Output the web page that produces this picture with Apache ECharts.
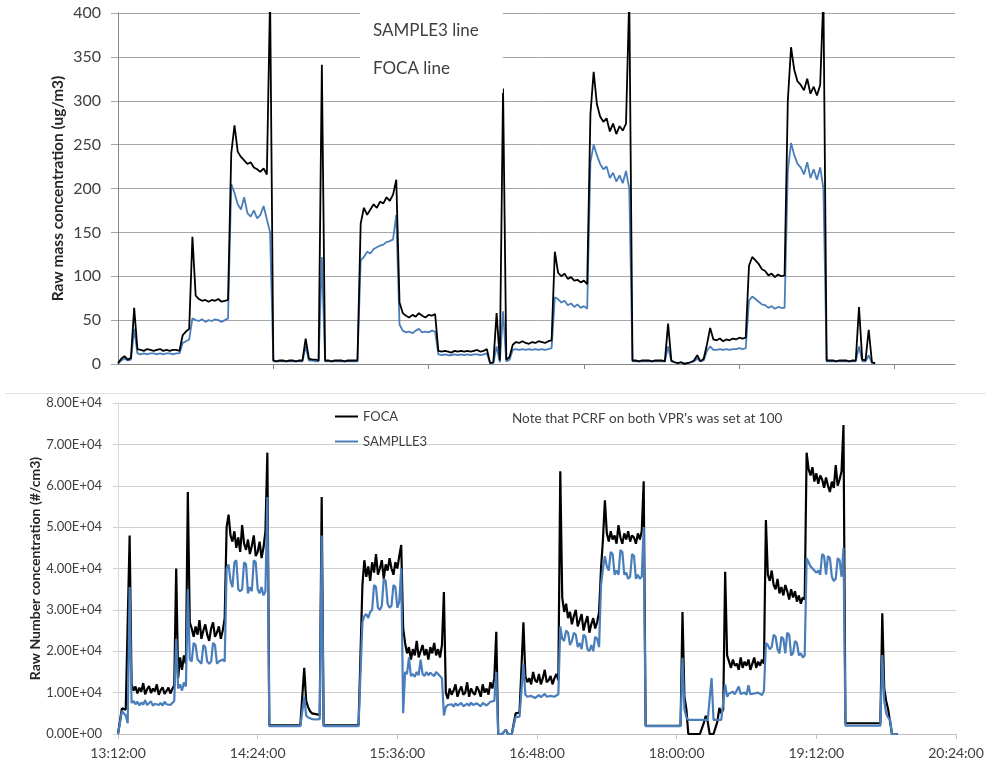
<!DOCTYPE html>
<html><head><meta charset="utf-8">
<script src="https://cdn.jsdelivr.net/npm/echarts@6/dist/echarts.min.js"></script>
<style>html,body{margin:0;padding:0;background:#fff}#c{width:986px;height:764px}</style>
</head><body><div id="c"></div>
<script>
// ---- Top panel: raw mass concentration (ug/m3), one reading every 1.5 min from 13:12 ----
const massStepMin = 1.5;
const massFoca = [1,6,9,5,7, 64, 17,16,15,17,16,15,16,17,15,16,15,16,16,15, 33,37,40, 145, 78,74,72,73,71,73,72,74,71,72,73, 240,272, 242,236,232,228,230,224,222,219,223,216, 420, 4,3,4,4,3,4,4,3,4,4, 29, 6,5,5,4, 341, 4,4,3,4,4,4,3,4,4,4,4, 160,178,170,176,182,178,185,183,190,186,193,210, 70,58,55,53,56,54,58,55,53,56,55,57, 15,14,15,14,13,15,14,15,14,15,14,15,16,14,15,17, 1,2,58,4,314,5,8, 22,25,24,26,24,23,25,24,26,25,24,26,27, 128,104,100,103,97,99,95,96,93,95,91, 285,333,296,282,276,280,265,274,262,271,266,274, 420, 4,4,3,4,4,4,3,4,4,4,3, 46, 4,2,1,2,0,1,2,4,10,3,6, 22,41,28,27,29,26,28,27,29,28,30,29,30, 112,122,118,114,108,106,101,103,99,102,100,101, 300,361,335,322,318,312,325,308,316,306,318, 420, 4,4,4,3,4,4,4,3,4,4,65,5,4,39,2,1];
const massSample3 = [0,4,6,4,5, 40, 12,11,12,11,12,12,11,12,11,12,12,11,12,12, 24,26,28, 52, 50,49,51,48,50,49,51,50,48,50,52, 205,195, 182,176,190,172,168,175,166,170,180,165, 150, 3,3,3,3,3,3,3,3,3,3, 20, 4,4,3,3, 122, 3,3,3,3,3,3,3,3,3,3,3, 118,122,128,126,131,133,135,136,139,140,142,170, 45,38,36,37,35,38,40,36,37,36,38,37, 11,10,11,10,10,11,10,11,10,11,10,11,11,10,11,12, 1,1,20,2,60,3,5, 16,17,16,17,16,17,16,17,16,17,16,17,18, 76,74,70,72,67,69,65,68,64,66,63, 230,250,238,228,222,225,212,218,208,215,206,220, 200, 3,3,3,3,3,3,3,3,3,3,3, 20, 3,2,1,2,1,1,2,3,6,3,4, 15,20,16,16,17,16,17,16,17,17,18,17,18, 72,77,74,71,68,67,64,66,63,65,64,64, 220,252,238,228,224,216,230,212,222,210,224, 200, 3,3,3,3,3,3,3,3,3,3,20,3,3,10,1,0];
const massYTicks = [0,50,100,150,200,250,300,350,400];

// ---- Bottom panel: raw number concentration (#/cm3), one reading per minute from 13:12 ----
const numStepMin = 1;
const numFoca = [0,0,
6200,6000,5900,5600,
48000,
12000,10500,11500,9800,11200,10200,12300,9600,10800,11600,9900,11000,10300,12000,9500,10600,11300,9700,10400,11200,9800,10900,11800,
40000,
13500,18500,15500,19000,17000,
58500,
27000,25500,23500,26000,24000,27500,23000,25000,26500,24000,22500,25500,27000,23500,24500,26000,23000,25000,28000,
50000,53000,48000,46500,49000,45000,47500,44000,50500,46000,44500,47000,43500,45500,48000,43000,44000,46500,42500,45000,49000,
68000,
2100,2100,2100,2100,2100,2100,2100,2100,2100,2100,2100,2100,2100,2100,2100,2100,2100,2100,
16000,
8000,6500,5500,5000,5200,4800,5000,4600,
57300,
2100,2100,2100,2100,2100,2100,2100,2100,2100,2100,2100,2100,2100,2100,2100,2100,2100,2100,2100,2100,
36000,42000,38000,40500,37000,41500,39000,43500,38500,40000,42000,37500,41000,39500,42500,40000,38500,41500,40000,43000,
45700,
25500,22000,19500,21000,18000,20500,19000,22500,18500,20000,21500,19000,20500,18000,21000,19500,22000,19000,20500,18500,21500,
34300,
10000,8500,11000,9500,10500,12000,9000,10500,11500,9500,10000,12500,9000,11000,10000,9500,11500,10500,9000,12000,10000,11000,9500,12500,11000,13500,
24700,
0,0,0,0,1000,0,0,0,0,
5000,5000,5200,5000,
27000,
14000,12500,13500,12000,15000,13000,12500,14500,12000,13500,15500,12500,13000,14000,12000,13500,14500,13000,
63500,
33000,29500,31500,28000,29500,26500,28500,30000,26000,27500,29000,25000,27000,28500,24500,26500,28000,25500,27000,29500,
40000,47000,56500,48500,46500,49000,47000,48000,46000,50500,47500,46000,48500,47000,49000,46500,48000,47500,46000,48500,47000,49000,
61100,
2000,2000,2000,2000,2000,2000,2000,2000,2000,2000,2000,2000,2000,2000,2000,2000,2000,2000,2000,
29500,
9000,6000,0,0,0,0,0,0,0,0,2700,4400,3000,0,0,0,0,3000,6300,5000,6000,
39200,
19000,17500,16000,18000,16500,17000,15500,18500,16000,17500,16500,18000,15500,17000,18500,16000,17500,16500,18000,17000,
51700,
38500,37000,39500,36000,35000,37500,34000,35500,33500,36000,34500,32500,35000,33000,34500,32000,33500,31500,33000,32500,
68000,64000,62500,64500,61000,63000,60500,62500,61500,59500,62000,60000,58500,61000,59500,65000,60000,61500,63500,
74700,
2600,2600,2600,2600,2600,2600,2600,2600,2600,2600,2600,2600,2600,2600,2600,2600,2600,2600,2600,
29200,
11000,8000,6000,3000,0,0,0,0];
const numSample3 = [0,0,
5500,5300,4500,2600,
35500,
7500,8000,7200,7800,6900,7600,7100,8200,7000,7400,7900,6800,7300,7700,7000,7500,6900,7800,7200,7600,7000,7400,8000,
23000,
11000,12000,10500,12500,11500,
35000,
18000,17500,22000,21500,18000,17500,17000,21500,21000,17500,17000,17500,22000,21500,17000,17500,17500,18000,17500,
40000,41000,37000,35500,41500,42000,35000,34500,35000,41500,41000,34000,35500,34500,42000,41500,35000,34000,35500,33500,34500,
57300,
1900,1900,1900,1900,1900,1900,1900,1900,1900,1900,1900,1900,1900,1900,1900,1900,1900,1900,
9000,
4500,4000,3800,3600,3800,3500,3700,3600,
48000,
1900,1900,1900,1900,1900,1900,1900,1900,1900,1900,1900,1900,1900,1900,1900,1900,1900,1900,1900,1900,
27000,28500,29000,28000,29500,30000,36000,35500,30500,30000,31000,37500,37000,31500,30500,31000,36000,35500,30500,32000,
40000,
5000,15000,14500,18500,14000,14500,13800,15000,14200,18000,14500,14000,15000,14200,14800,14500,14000,15000,14500,14300,13500,
4500,
6500,7000,6800,7200,6600,7400,6900,7100,7500,6700,7000,7300,6800,7600,7000,6900,7400,7100,6700,7500,7200,6900,7300,7800,7400,8000,
15000,
0,0,0,0,1000,0,0,0,0,
4100,4000,4200,4100,
17000,
9500,9000,8800,9200,9600,8700,9100,9400,8900,9300,9700,9000,8800,9200,9500,9000,9300,9600,
26000,
23000,22500,25000,24500,21500,22500,24500,24000,21000,22000,20500,24000,23500,20500,20000,21500,20000,23500,23000,21000,
36000,40000,43000,40500,39500,44000,43500,38500,39500,38500,44500,44000,38500,39000,37500,38000,43500,43000,37500,38500,37500,38000,
50000,
1900,1900,1900,1900,1900,1900,1900,1900,1900,1900,1900,1900,1900,1900,1900,1900,1900,1900,1900,
18400,
6000,4000,3400,3400,3400,3400,3400,3400,3400,3400,3400,3400,3400,3400,13500,3400,3400,3400,3400,3400,3400,
12000,
9000,9800,9400,10200,9600,9300,11500,9700,9400,10000,9500,11800,9600,9300,9800,9500,10000,9700,9400,10500,
22000,
21500,20500,21000,24000,23500,20500,19500,23500,23000,19500,24500,24000,19000,19500,22500,22000,19000,19500,18500,19000,
42500,41500,40500,40000,39500,39000,39500,38500,43500,43000,38500,43000,42500,38000,37000,37500,42500,42000,38000,
45000,
2000,2000,2000,2000,2000,2000,2000,2000,2000,2000,2000,2000,2000,2000,2000,2000,2000,2000,2000,
19100,
8000,5000,4000,3500,0,0,0,0];
const numYLabels = ['0.00E+00','1.00E+04','2.00E+04','3.00E+04','4.00E+04','5.00E+04','6.00E+04','7.00E+04','8.00E+04'];
const timeLabels = ['13:12:00','14:24:00','15:36:00','16:48:00','18:00:00','19:12:00','20:24:00'];

const FONT = 'Lato';
const BLUE = '#4a7ebb';
const toPairs = (arr, step) => arr.map((v, i) => [i * step, v]);

const chart = echarts.init(document.getElementById('c'), null, {renderer: 'canvas'});
chart.setOption({
  animation: false,
  backgroundColor: '#fff',
  grid: [
    {left: 118, top: 13, width: 837, height: 351, outerBoundsMode: 'none'},
    {left: 118, top: 403, width: 838, height: 331, outerBoundsMode: 'none'}
  ],
  xAxis: [
    {gridIndex: 0, type: 'value', min: 0, max: 388, interval: 72,
     axisLine: {show: true, lineStyle: {color: '#868686'}},
     axisTick: {show: true, length: 5, customValues: [72,144,216,288,360], lineStyle: {color: '#868686'}},
     axisLabel: {show: false}, splitLine: {show: false}},
    {gridIndex: 1, type: 'value', min: 0, max: 432, interval: 72,
     axisLine: {show: true, lineStyle: {color: '#bfbfbf'}},
     axisTick: {show: true, length: 5, lineStyle: {color: '#bfbfbf'}},
     axisLabel: {formatter: v => timeLabels[Math.round(v / 72)], color: '#404040', fontSize: 14, fontFamily: FONT, margin: 12},
     splitLine: {show: false}}
  ],
  yAxis: [
    {gridIndex: 0, type: 'value', min: massYTicks[0], max: massYTicks[massYTicks.length - 1], interval: 50,
     axisLine: {show: true, lineStyle: {color: '#868686'}},
     axisTick: {show: true, length: 7, lineStyle: {color: '#a6a6a6'}},
     axisLabel: {color: '#404040', fontSize: 16, fontFamily: FONT, margin: 17},
     splitLine: {show: true, lineStyle: {color: '#a6a6a6', width: 1}},
     name: 'Raw mass concentration (ug/m3)', nameLocation: 'middle', nameGap: 52, nameMoveOverlap: false,
     nameTextStyle: {fontWeight: 'bold', fontSize: 15.5, fontFamily: FONT, color: '#262626'}},
    {gridIndex: 1, type: 'value', min: 0, max: 80000, interval: 10000,
     axisLine: {show: true, lineStyle: {color: '#d9d9d9'}},
     axisTick: {show: true, length: 5, lineStyle: {color: '#d0d0d0'}},
     axisLabel: {formatter: v => numYLabels[Math.round(v / 10000)], color: '#404040', fontSize: 13, fontFamily: FONT, margin: 16},
     splitLine: {show: true, lineStyle: {color: '#d0d0d0', width: 1}},
     name: 'Raw Number concentration (#/cm3)', nameLocation: 'middle', nameGap: 76, nameMoveOverlap: false,
     nameTextStyle: {fontWeight: 'bold', fontSize: 14, fontFamily: FONT, color: '#262626'}}
  ],
  legend: [
    {data: [{name: 'SAMPLE3 line'}, {name: 'FOCA line'}], orient: 'vertical', left: 360, top: 8,
     padding: [14, 24, 16, 8], itemGap: 21, icon: 'none', itemWidth: 0, itemHeight: 17,
     backgroundColor: '#fff', selectedMode: false,
     textStyle: {fontSize: 17, fontFamily: FONT, color: '#404040'}},
    {data: ['FOCA', 'SAMPLLE3'], orient: 'vertical', left: 335, top: 410, padding: 0, itemGap: 12,
     icon: 'rect', itemWidth: 23, itemHeight: 2, selectedMode: false,
     textStyle: {fontSize: 13, fontFamily: FONT, color: '#404040'}}
  ],
  graphic: [
    {type: 'line', shape: {x1: 5, y1: 393.5, x2: 986, y2: 393.5}, style: {stroke: '#e2e2e2', lineWidth: 1}, silent: true},
    {type: 'text', left: 512, top: 412, silent: true,
     style: {text: "Note that PCRF on both VPR's was set at 100", font: '13.5px Lato', fill: '#404040'}}
  ],
  series: [
    {type: 'line', name: 'SAMPLE3 line', xAxisIndex: 0, yAxisIndex: 0, data: toPairs(massSample3, massStepMin),
     showSymbol: false, symbol: 'none', clip: true, lineStyle: {color: BLUE, width: 1.8}, itemStyle: {color: BLUE},
     emphasis: {disabled: true}},
    {type: 'line', name: 'FOCA line', xAxisIndex: 0, yAxisIndex: 0, data: toPairs(massFoca, massStepMin),
     showSymbol: false, symbol: 'none', clip: true, lineStyle: {color: '#000', width: 1.8}, itemStyle: {color: '#000'},
     emphasis: {disabled: true}},
    {type: 'line', name: 'FOCA', xAxisIndex: 1, yAxisIndex: 1, data: toPairs(numFoca, numStepMin),
     showSymbol: false, symbol: 'none', clip: true, lineStyle: {color: '#000', width: 2.2}, itemStyle: {color: '#000'},
     emphasis: {disabled: true}},
    {type: 'line', name: 'SAMPLLE3', xAxisIndex: 1, yAxisIndex: 1, data: toPairs(numSample3, numStepMin),
     showSymbol: false, symbol: 'none', clip: true, lineStyle: {color: BLUE, width: 2.2}, itemStyle: {color: BLUE},
     emphasis: {disabled: true}}
  ]
});
</script>
</body></html>
